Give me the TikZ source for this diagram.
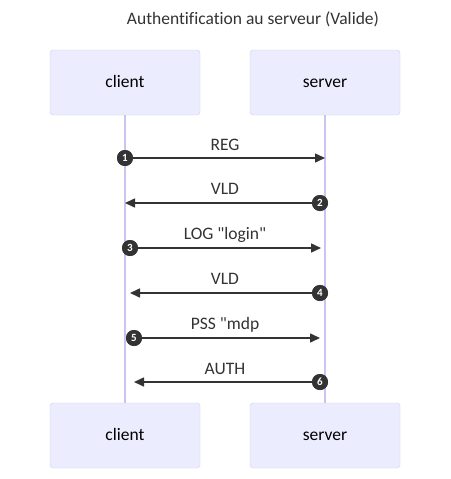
\documentclass[tikz,border=0pt]{standalone}
\usepackage{fontspec}
\newfontfamily\seqfont{Carlito}[Ligatures=NoCommon]
\usetikzlibrary{arrows.meta}
\definecolor{actorfill}{HTML}{ECECFF}
\definecolor{actorline}{HTML}{D3CFF3}
\definecolor{lifeline}{HTML}{CCC4F0}
\definecolor{msgcol}{HTML}{333333}

\tikzset{
  actor/.style={rectangle,draw=actorline,fill=actorfill,rounded corners=3pt,minimum width=150pt,minimum height=65pt,font=\seqfont\fontsize{17.5}{20}\selectfont,text=black,text height=12pt,text depth=3pt},
  msglabel/.style={font=\seqfont\fontsize{17.5}{20}\selectfont,text=msgcol,text height=12pt,text depth=3pt},
  seqnum/.style={circle,fill=msgcol,text=white,inner sep=0pt,minimum size=16pt,font=\seqfont\fontsize{11}{12}\selectfont\bfseries},
  msgarrow/.style={draw=msgcol,line width=1.5pt,-{Triangle[length=10pt,width=9pt]}},
}

\begin{document}
\begin{tikzpicture}[x=1pt,y=-1pt]
    \fill[white] (0,0) rectangle (450,479);
    \useasboundingbox (0,0) rectangle (450,479);
    \node[msglabel] at (253,20) (title) {Authentification au serveur (Valide)};
    % participants
    \node[actor] at (125,82.5) (c1) {client};
    \node[actor] at (325,82.5) (s1) {server};
    \node[actor] at (125,435.5) (c2) {client};
    \node[actor] at (325,435.5) (s2) {server};
    \draw[lifeline,line width=1.3pt] (c1.south) -- (c2.north);
    \draw[lifeline,line width=1.3pt] (s1.south) -- (s2.north);
    % messages
    \node[seqnum] at (125,158) (n1) {1};
    \coordinate (t1) at (325,158);
    \node[seqnum] at (320,203) (n2) {2};
    \coordinate (t2) at (125,203);
    \node[seqnum] at (130,248) (n3) {3};
    \coordinate (t3) at (321,248);
    \node[seqnum] at (320,293) (n4) {4};
    \coordinate (t4) at (130,293);
    \node[seqnum] at (134,338) (n5) {5};
    \coordinate (t5) at (320,338);
    \node[seqnum] at (320,382) (n6) {6};
    \coordinate (t6) at (134,382);
    \draw[msgarrow] (n1.center) -- (t1);
    \draw[msgarrow] (n2.center) -- (t2);
    \draw[msgarrow] (n3.center) -- (t3);
    \draw[msgarrow] (n4.center) -- (t4);
    \draw[msgarrow] (n5.center) -- (t5);
    \draw[msgarrow] (n6.center) -- (t6);
    \node[seqnum] at (n1) {1};
    \node[seqnum] at (n2) {2};
    \node[seqnum] at (n3) {3};
    \node[seqnum] at (n4) {4};
    \node[seqnum] at (n5) {5};
    \node[seqnum] at (n6) {6};
    \node[msglabel] at (225,146) (l1) {REG};
    \node[msglabel] at (225,190) (l2) {VLD};
    \node[msglabel] at (225,235) (l3) {LOG "login"};
    \node[msglabel] at (225,280) (l4) {VLD};
    \node[msglabel] at (225,325) (l5) {PSS "mdp};
    \node[msglabel] at (225,370) (l6) {AUTH};
\end{tikzpicture}
\end{document}
